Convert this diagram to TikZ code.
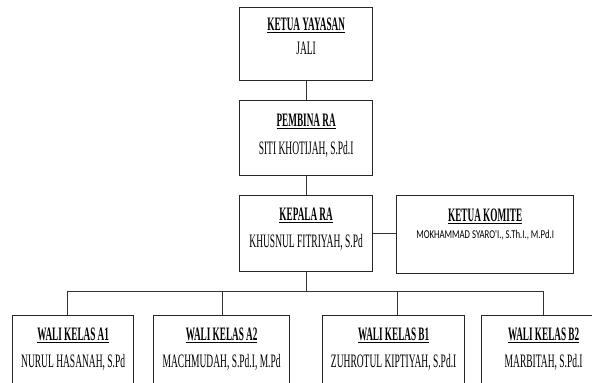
\documentclass[tikz,border=0pt]{standalone}
\usepackage{fontspec}
\newfontfamily\condf[FakeStretch=0.50]{Liberation Serif}
\newfontfamily\condb[FakeStretch=0.485]{Liberation Serif Bold}
\newfontfamily\smallsans[FakeStretch=0.73]{Carlito}
\newcommand\ttlul[1]{\setbox0\hbox{#1}\rlap{\raisebox{-3.2pt}{\rule{\wd0}{1.4pt}}}\box0}
\begin{document}
\begin{tikzpicture}[x=1pt,y=1pt,
  box/.style={draw=black!85,line width=1.3pt,fill=white,inner sep=0pt,anchor=north west},
  ttl/.style={anchor=base,inner sep=0pt,font=\condb\fontsize{19}{20}\selectfont},
  nm/.style={anchor=base,inner sep=0pt,font=\condf\fontsize{19}{20}\selectfont},
  sm/.style={anchor=base,inner sep=0pt,font=\smallsans\fontsize{12}{13}\selectfont},
  conn/.style={draw=black!80,line width=0.9pt}]
\clip (0,0) rectangle (592,-383);
\fill[white] (0,0) rectangle (592,-383);
% boxes
\node[box,minimum width=133,minimum height=73] (ky) at (239,-7) {};
\node[box,minimum width=133,minimum height=75] (pr) at (239,-100) {};
\node[box,minimum width=133,minimum height=76] (kr) at (239,-195) {};
\node[box,minimum width=177,minimum height=78] (km) at (396,-195) {};
\node[box,minimum width=121,minimum height=90] (a1) at (12,-315) {};
\node[box,minimum width=136,minimum height=90] (a2) at (153,-315) {};
\node[box,minimum width=142,minimum height=90] (b1) at (322,-315) {};
\node[box,minimum width=124,minimum height=90] (b2) at (481,-315) {};
% texts
\node[ttl] (kyt) at ([yshift=-23]ky.north) {\ttlul{KETUA YAYASAN}};
\node[nm] (kyn) at ([yshift=-47]ky.north) {JALI};
\node[ttl] (prt) at ([yshift=-26]pr.north) {\ttlul{PEMBINA RA}};
\node[nm] (prn) at ([yshift=-54]pr.north) {SITI KHOTIJAH, S.Pd.I};
\node[ttl] (krt) at ([yshift=-25]kr.north) {\ttlul{KEPALA RA}};
\node[nm] (krn) at ([yshift=-52]kr.north) {KHUSNUL FITRIYAH, S.Pd};
\node[ttl] (kmt) at ([yshift=-26]km.north) {\ttlul{KETUA KOMITE}};
\node[sm] (kmn) at ([yshift=-43]km.north) {MOKHAMMAD SYARO'I., S.Th.I., M.Pd.I};
\node[ttl] (a1t) at ([yshift=-25]a1.north) {\ttlul{WALI KELAS A1}};
\node[nm] (a1n) at ([yshift=-52]a1.north) {NURUL HASANAH, S.Pd};
\node[ttl] (a2t) at ([yshift=-25]a2.north) {\ttlul{WALI KELAS A2}};
\node[nm] (a2n) at ([yshift=-52]a2.north) {MACHMUDAH, S.Pd.I, M.Pd};
\node[ttl] (b1t) at ([yshift=-25]b1.north) {\ttlul{WALI KELAS B1}};
\node[nm] (b1n) at ([yshift=-52]b1.north) {ZUHROTUL KIPTIYAH, S.Pd.I};
\node[ttl] (b2t) at ([yshift=-25]b2.north) {\ttlul{WALI KELAS B2}};
\node[nm] (b2n) at ([yshift=-52]b2.north) {MARBITAH, S.Pd.I};
% connectors
\draw[conn] (ky.south) -- (pr.north);
\draw[conn] (pr.south) -- (kr.north);
\draw[conn] (kr.east |- 0,-233) -- (km.west |- 0,-233);
\coordinate (bus) at (kr.south |- 0,-291);
\coordinate (da1) at (67,-315);
\coordinate (da2) at (222,-315);
\coordinate (db1) at (397,-315);
\coordinate (db2) at (543,-315);
\draw[conn] (kr.south) -- (bus);
\draw[conn] (da1 |- bus) -- (db2 |- bus);
\foreach \n in {da1,da2,db1,db2} \draw[conn] (\n) -- (\n |- bus);
\end{tikzpicture}
\end{document}
